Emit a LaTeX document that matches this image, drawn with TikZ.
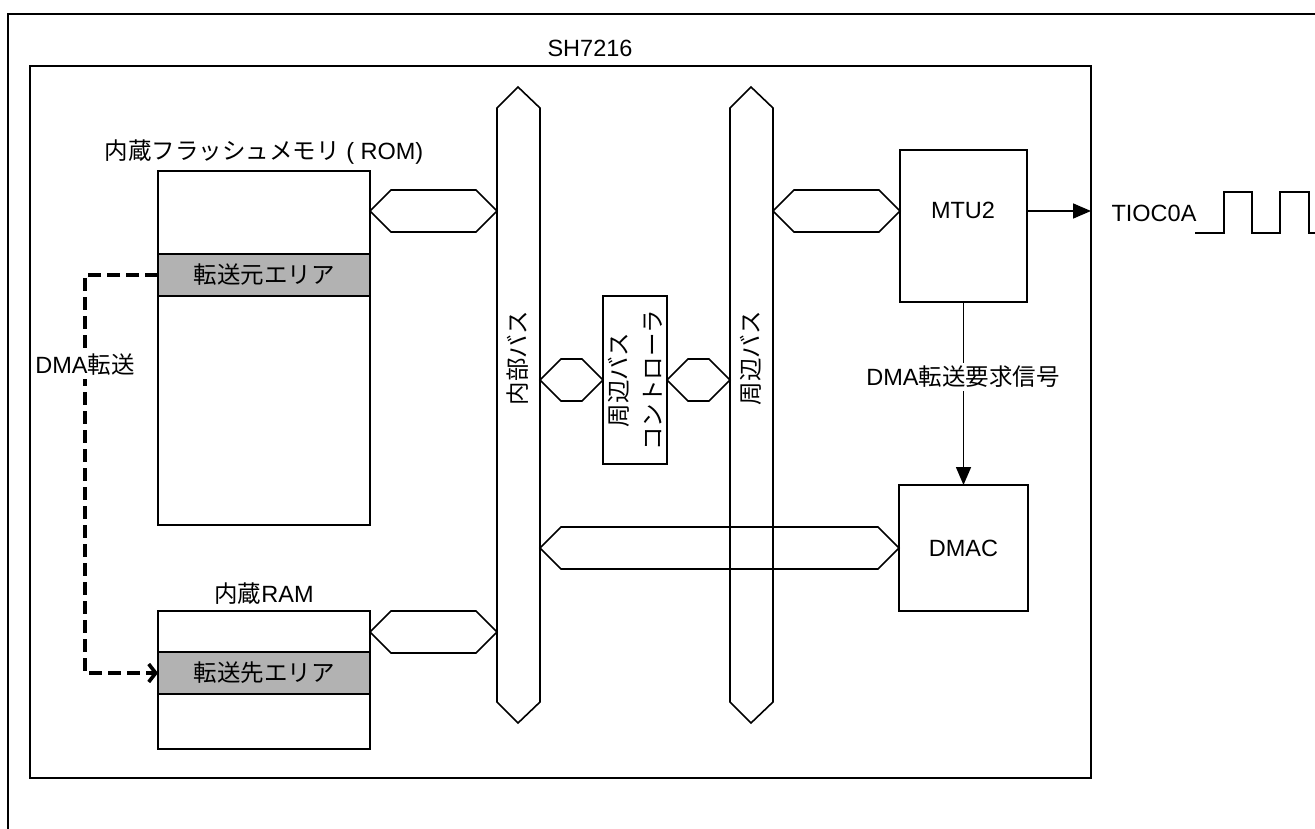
\documentclass[tikz,border=0pt]{standalone}
\usepackage{fontspec}
\setmainfont{Liberation Sans}
\newfontfamily\jp{Noto Sans CJK JP}
\usetikzlibrary{arrows.meta}
\newcommand{\J}[1]{{\jp #1}}
\definecolor{bandgray}{RGB}{178,178,178}
\begin{document}
\begin{tikzpicture}[x=1pt,y=-1pt,
  font=\fontsize{23.5}{34}\selectfont,
  ln/.style={line width=1.6pt, line join=miter},
  box/.style={ln, draw, inner sep=0pt, outer sep=0pt, anchor=north west},
  band/.style={box, fill=bandgray},
  lbl/.style={inner sep=1pt},
  dma/.style={line width=3.6pt, dash pattern=on 13pt off 6pt},
  sig/.style={ln, -{Triangle[length=18pt,width=15pt]}}]
\useasboundingbox (0,0) rectangle (1315,829);
% outer frame (cropped at right and bottom)
\draw[ln] (8,14) rectangle (1340,860);
% SH7216 chip
\node[box, minimum width=1061, minimum height=712] (chip) at (30,66) {};
\node[lbl] (chiplbl) at (590,48) {SH7216};
% ROM
\node[box, minimum width=212, minimum height=354] (rom) at (158,171) {};
\node[lbl] (romlbl) at (264,152) {\J{内蔵フラッシュメモリ} ( ROM)};
\node[band, minimum width=212, minimum height=42] (src) at (158,254) {};
\node[lbl] (srclbl) at (src.center) {\J{転送元エリア}};
% RAM
\node[box, minimum width=212, minimum height=138] (ram) at (158,611) {};
\node[lbl] (ramlbl) at (264,594) {\J{内蔵}RAM};
\node[band, minimum width=212, minimum height=42] (dst) at (158,652) {};
\node[lbl] (dstlbl) at (dst.center) {\J{転送先エリア}};
% buses
\draw[ln] (497,108) -- (518,87) -- (540,108) -- (540,702) -- (518,723) -- (497,702) -- cycle;
\node[lbl, rotate=90] (ibus) at (518,358) {\J{内部バス}};
\draw[ln] (730,108) -- (751,87) -- (773,108) -- (773,702) -- (751,723) -- (730,702) -- cycle;
\node[lbl, rotate=90] (pbus) at (751,358) {\J{周辺バス}};
% peripheral bus controller
\node[box, minimum width=64, minimum height=168] (ctrl) at (603,296) {};
\node[lbl, rotate=90, align=center] (ctrllbl) at (ctrl.center) {\J{周辺バス}\\\J{コントローラ}};
% MTU2 and DMAC
\node[box, minimum width=127, minimum height=152] (mtu) at (900,150) {};
\node[lbl] (mtulbl) at (963,210) {MTU2};
\node[box, minimum width=129, minimum height=126] (dmac) at (899,485) {};
\node[lbl] (dmaclbl) at (dmac.center) {DMAC};
% bus connectors
\newcommand{\hconn}[3]{\draw[ln] (#1,#3) -- ++(21,-21) -- ({#2-21},{#3-21}) -- (#2,#3) -- ++(-21,21) -- ({#1+21},{#3+21}) -- cycle;}
\hconn{370}{497}{211}
\hconn{370}{497}{632}
\hconn{540}{603}{380}
\hconn{667}{730}{380}
\hconn{773}{900}{211}
\hconn{540}{899}{548}
% request signal
\draw[sig] (mtu.south) -- (dmac.north);
\node[lbl, fill=white, inner sep=3pt] (reqlbl) at (963,377) {DMA\J{転送要求信号}};
% TIOC0A output
\coordinate (tio) at (1091,211);
\draw[sig] (mtu.east |- tio) -- (tio);
\node[lbl] (tiolbl) at (1154,213) {TIOC0A};
\draw[ln] (1195,233) -- (1224,233) -- (1224,192) -- (1252,192) -- (1252,233) -- (1280,233) -- (1280,192) -- (1309,192) -- (1309,233) -- (1320,233);
% DMA transfer
\draw[dma, -{Straight Barb[length=7pt,width=18pt,line width=3.6pt]}] (src.west) -- (85,275) -- (85,673) -- (dst.west);
\node[lbl, fill=white, inner sep=3pt] (dmalbl) at (85,365) {DMA\J{転送}};
\end{tikzpicture}
\end{document}
